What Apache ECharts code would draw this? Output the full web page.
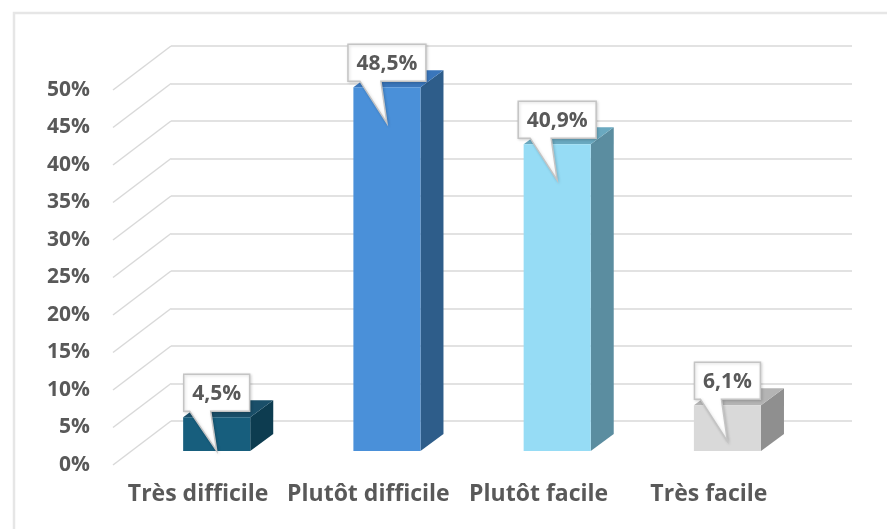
<!DOCTYPE html>
<html><head><meta charset="utf-8">
<script src="https://cdn.jsdelivr.net/npm/echarts@6/dist/echarts.min.js"></script>
<style>html,body{margin:0;padding:0;background:#fff}#c{width:887px;height:529px}</style>
</head><body><div id="c"></div>
<script>
// ---- data ----
const categories = ['Très difficile', 'Plutôt difficile', 'Plutôt facile', 'Très facile'];
const values = [4.5, 48.5, 40.9, 6.1];
const valueLabels = ['4,5%', '48,5%', '40,9%', '6,1%'];
const yTicks = [0, 5, 10, 15, 20, 25, 30, 35, 40, 45, 50];

// ---- styles ----
const frontColors = ['#175e7d', '#4a90d9', '#96dcf5', '#d9d9d9'];
const sideColors = ['#0d3c50', '#2e5d8a', '#5b8da0', '#8f8f8f'];
const topColors = ['#1a4f69', '#3a76bb', '#6aa9c0', '#b4b4b4'];
const FONT = '"Open Sans", "Noto Sans", sans-serif';
const TXT = '#595959';
const GRIDC = '#d9d9d9';
const DEPTH_X = 58, DEPTH_Y = 44;   // back wall -> front plane
const BAR_SHIFT = 0.68;             // bar front face position in depth
const BAR_DX = 23, BAR_DY = 17;     // bar depth
const VAL_FS = 21;

const mctx = document.createElement('canvas').getContext('2d');
function measure(t) { mctx.font = 'bold ' + VAL_FS + 'px ' + FONT; return mctx.measureText(t).width; }

function renderDiag(params, api) {
  const y = api.coord([0, api.value(1)])[1];
  const x0 = params.coordSys.x;
  return { type: 'line', shape: { x1: x0, y1: y, x2: x0 - DEPTH_X, y2: y + DEPTH_Y },
    style: { stroke: GRIDC, lineWidth: 1.5 } };
}

function renderBar(params, api) {
  const i = api.value(0), v = api.value(1);
  const base = api.coord([i, 0]), top = api.coord([i, v]);
  const band = api.size([1, 0])[0];
  const w = band * 0.394;
  const sx = -DEPTH_X * BAR_SHIFT, sy = DEPTH_Y * BAR_SHIFT;
  const x0 = base[0] + sx - w / 2, x1 = x0 + w, yb = base[1] + sy, yt = top[1] + sy;
  return { type: 'group', children: [
    { type: 'polygon', shape: { points: [[x1, yb], [x1 + BAR_DX, yb - BAR_DY], [x1 + BAR_DX, yt - BAR_DY], [x1, yt]] }, style: { fill: sideColors[i] } },
    { type: 'polygon', shape: { points: [[x0, yt], [x1, yt], [x1 + BAR_DX, yt - BAR_DY], [x0 + BAR_DX, yt - BAR_DY]] }, style: { fill: topColors[i] } },
    { type: 'rect', shape: { x: x0, y: yt, width: w, height: yb - yt }, style: { fill: frontColors[i] } }
  ] };
}

function renderLabel(params, api) {
  const i = api.value(0), v = api.value(1);
  const base = api.coord([i, 0]), top = api.coord([i, v]);
  const cx = base[0] - DEPTH_X * BAR_SHIFT;
  const ft = top[1] + DEPTH_Y * BAR_SHIFT, fb = base[1] + DEPTH_Y * BAR_SHIFT;
  const tw = measure(valueLabels[i]);
  const bw = tw + 17, bh = 37;
  const bx0 = cx - bw / 2, bx1 = cx + bw / 2, by1 = ft - 6, by0 = by1 - bh;
  const tipY = Math.min(ft + 36, fb);
  const pts = [[bx0, by0], [bx1, by0], [bx1, by1], [cx - 6, by1], [cx, tipY], [cx - 27, by1], [bx0, by1]];
  return { type: 'group', children: [
    { type: 'polygon', shape: { points: pts },
      style: { fill: '#fff', stroke: '#c4c4c4', lineWidth: 1.5, shadowBlur: 3, shadowColor: 'rgba(0,0,0,0.15)', shadowOffsetX: 1, shadowOffsetY: 1 } },
    { type: 'text', style: { text: valueLabels[i], x: cx, y: (by0 + by1) / 2 + 1, align: 'center', verticalAlign: 'middle',
      fontSize: VAL_FS, fontWeight: 'bold', fontFamily: FONT, fill: TXT } }
  ] };
}

const chart = echarts.init(document.getElementById('c'), null, { renderer: 'canvas' });
chart.setOption({
  animation: false,
  backgroundColor: '#fff',
  graphic: [{ type: 'rect', shape: { x: 14, y: 13, width: 1000, height: 1000 }, style: { fill: 'none', stroke: '#e6e6e6', lineWidth: 2.5 }, z: -10 }],
  grid: [
    { left: 171, top: 46, width: 681, height: 375 },
    { left: 113, top: 90, width: 681, height: 375 }
  ],
  xAxis: [
    { type: 'category', gridIndex: 0, data: categories, axisLine: { show: false }, axisTick: { show: false }, axisLabel: { show: false } },
    { type: 'category', gridIndex: 1, data: categories, axisLine: { show: false }, axisTick: { show: false },
      axisLabel: { interval: 0, color: TXT, fontSize: 23, fontWeight: 'bold', fontFamily: FONT, margin: 18 } }
  ],
  yAxis: [
    { type: 'value', gridIndex: 0, min: 0, max: 50, interval: 5, axisLabel: { show: false }, axisLine: { show: false }, axisTick: { show: false },
      splitLine: { lineStyle: { color: GRIDC, width: 1.5 } } },
    { type: 'value', gridIndex: 1, min: 0, max: 50, interval: 5, axisLine: { show: false }, axisTick: { show: false }, splitLine: { show: false },
      axisLabel: { formatter: '{value}%', color: TXT, fontSize: 21, fontWeight: 'bold', fontFamily: FONT, margin: 23 } }
  ],
  series: [
    { type: 'custom', xAxisIndex: 0, yAxisIndex: 0, renderItem: renderDiag, data: yTicks.map(t => [0, t]), z: 1, silent: true },
    { type: 'custom', xAxisIndex: 0, yAxisIndex: 0, renderItem: renderBar, data: values.map((v, i) => [i, v]), z: 2 },
    { type: 'custom', xAxisIndex: 0, yAxisIndex: 0, renderItem: renderLabel, data: values.map((v, i) => [i, v]), z: 3 }
  ]
});
</script></body></html>
